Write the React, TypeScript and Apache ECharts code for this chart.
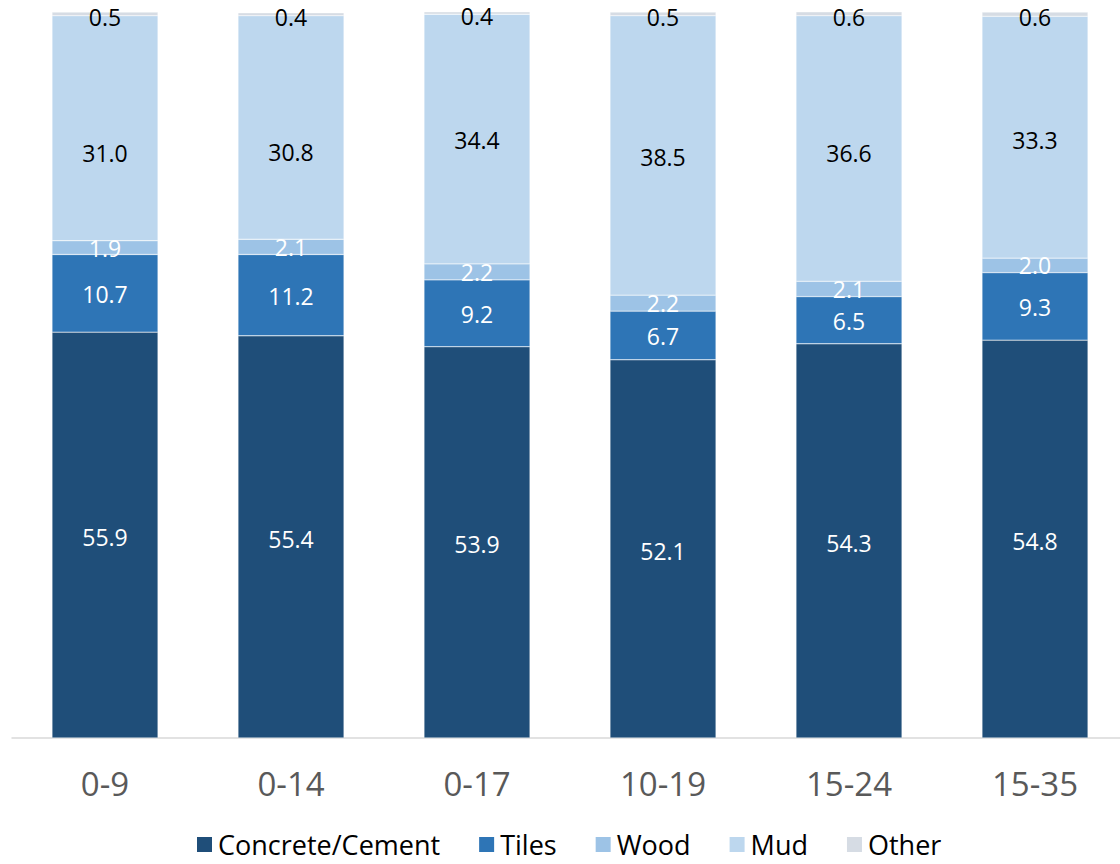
import React, { useEffect, useRef } from "react";
import * as echarts from "echarts";

const categories = ["0-9", "0-14", "0-17", "10-19", "15-24", "15-35"];
const concrete = [55.9, 55.4, 53.9, 52.1, 54.3, 54.8];
const tiles = [10.7, 11.2, 9.2, 6.7, 6.5, 9.3];
const wood = [1.9, 2.1, 2.2, 2.2, 2.1, 2.0];
const mud = [31.0, 30.8, 34.4, 38.5, 36.6, 33.3];
const other = [0.5, 0.4, 0.4, 0.5, 0.6, 0.6];

// label vertical nudges (px) to match the reference's placed labels
const mudLabelShift = [25, 25, 1, 2, 5, 3];

const seriesDefs = [
  { name: "Concrete/Cement", data: concrete, color: "#1F4E79", label: "#ffffff", shift: [2, 2, 2, 2, 2, 2] },
  { name: "Tiles", data: tiles, color: "#2E75B6", label: "#ffffff", shift: [1, 1, 1, 1, 1, 1] },
  { name: "Wood", data: wood, color: "#9DC3E6", label: "#ffffff", shift: [0, 0, 0, 0, 0, 0] },
  { name: "Mud", data: mud, color: "#BDD7EE", label: "#000000", shift: mudLabelShift },
  { name: "Other", data: other, color: "#D6DCE4", label: "#000000", shift: [3, 3, 3, 3, 3, 3] },
];

const FONT = "'Open Sans', 'Noto Sans', sans-serif";

export default function App() {
  const ref = useRef<HTMLDivElement>(null);
  useEffect(() => {
    if (!ref.current) return;
    const chart = echarts.init(ref.current, undefined, { renderer: "svg" });
    chart.setOption({
      animation: false,
      grid: { left: 12, right: 0, top: 12, bottom: 126, containLabel: false },
      legend: {
        bottom: 4,
        left: 190,
        padding: [5, 5, 2, 5],
        icon: "rect",
        itemWidth: 17,
        itemHeight: 17,
        itemGap: 37,
        textStyle: { fontFamily: FONT, fontSize: 27, lineHeight: 26, color: "#000" },
        data: seriesDefs.map((s) => s.name),
      },
      xAxis: {
        type: "category",
        data: categories,
        axisLine: { show: true, lineStyle: { color: "#D9D9D9", width: 1.5 } },
        axisTick: { show: false },
        axisLabel: { fontFamily: FONT, fontSize: 33, color: "#595959", margin: 29 },
      },
      yAxis: {
        type: "value",
        min: 0,
        max: 100,
        show: false,
        splitLine: { show: false },
      },
      series: seriesDefs.map((s) => ({
        name: s.name,
        type: "bar",
        stack: "total",
        barWidth: "57%",
        data: s.data.map((v, i) => ({
          value: v,
          label: { offset: [0, s.shift[i]] },
        })),
        itemStyle: { color: s.color, borderColor: "#ffffff", borderWidth: 0.4 },
        label: {
          show: true,
          position: "inside",
          color: s.label,
          fontFamily: FONT,
          fontSize: 23,
          formatter: (p: any) => Number(p.value).toFixed(1),
        },
      })),
    });
    return () => chart.dispose();
  }, []);
  return (
    <div style={{ position: "absolute", left: 0, top: 0, width: 1120, height: 864, overflow: "hidden" }}>
      <div ref={ref} style={{ position: "absolute", left: 0, top: 0, width: 1128, height: 864 }} />
    </div>
  );
}
